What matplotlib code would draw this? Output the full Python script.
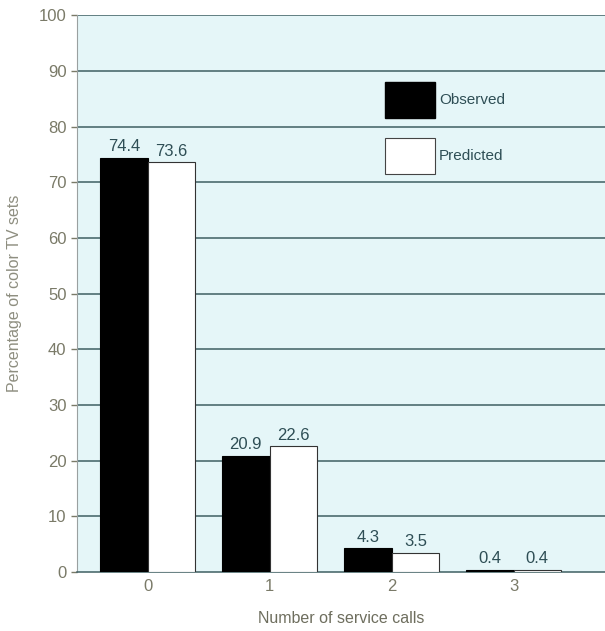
import matplotlib.pyplot as plt
import numpy as np
from matplotlib.patches import Rectangle

# service calls per color TV set
calls = ["0", "1", "2", "3"]
observed = [74.4, 20.9, 4.3, 0.4]
predicted = [73.6, 22.6, 3.5, 0.4]
y_ticks = [0, 10, 20, 30, 40, 50, 60, 70, 80, 90, 100]

plt.rcParams['font.family'] = ['Liberation Sans', 'DejaVu Sans']

fig = plt.figure(figsize=(6.05, 6.31), dpi=100)
ax = fig.add_axes([0.127, 0.0935, 0.873, 0.8825])
ax.set_facecolor('#e5f6f8')

x = np.arange(len(calls))
w = 0.39
grid_col = '#3f5f62'
for t in y_ticks[1:]:
    ax.axhline(t, color=grid_col, lw=1.1, zorder=1)

b1 = ax.bar(x - w / 2, observed, w, color='black', edgecolor='black', lw=0.8, zorder=3)
b2 = ax.bar(x + w / 2, predicted, w, color='white', edgecolor='#333333', lw=0.8, zorder=3)

lab_col = '#2e4e55'
for i in range(len(calls)):
    ax.text(x[i] - w / 2, observed[i] + 0.6, f"{observed[i]}", ha='center', va='bottom',
            fontsize=12, color=lab_col, zorder=4)
    ax.text(x[i] + w / 2, predicted[i] + 0.6, f"{predicted[i]}", ha='center', va='bottom',
            fontsize=12, color=lab_col, zorder=4)

ax.set_xlim(-0.58, 3.75)
ax.set_ylim(0, 100)
ax.set_xticks(x)
ax.set_xticklabels(calls)
ax.set_yticks(y_ticks)
ax.tick_params(axis='both', colors='#7a7a68', labelsize=12, length=4, width=1)
ax.tick_params(axis='x', length=0, pad=5)
for s in ['top', 'right']:
    ax.spines[s].set_visible(False)
ax.spines['left'].set_color('#9aa0a0')
ax.spines['bottom'].set_color(grid_col)
ax.spines['bottom'].set_linewidth(1.1)

ax.set_xlabel("Number of service calls", fontsize=11.5, color='#6e6e5e', labelpad=12)
ax.set_ylabel("Percentage of color TV sets", fontsize=11.5, color='#8e8e80', labelpad=12)

# legend boxes drawn by hand in data coords
ax.add_patch(Rectangle((1.95, 81.5), 0.41, 6.5, facecolor='black', edgecolor='black', zorder=3))
ax.add_patch(Rectangle((1.95, 71.5), 0.41, 6.5, facecolor='white', edgecolor='#444444', lw=0.8, zorder=3))
ax.text(2.39, 84.7, "Observed", fontsize=11, color=lab_col, va='center', zorder=4)
ax.text(2.39, 74.7, "Predicted", fontsize=11, color=lab_col, va='center', zorder=4)

fig.savefig("out.png", dpi=100)
